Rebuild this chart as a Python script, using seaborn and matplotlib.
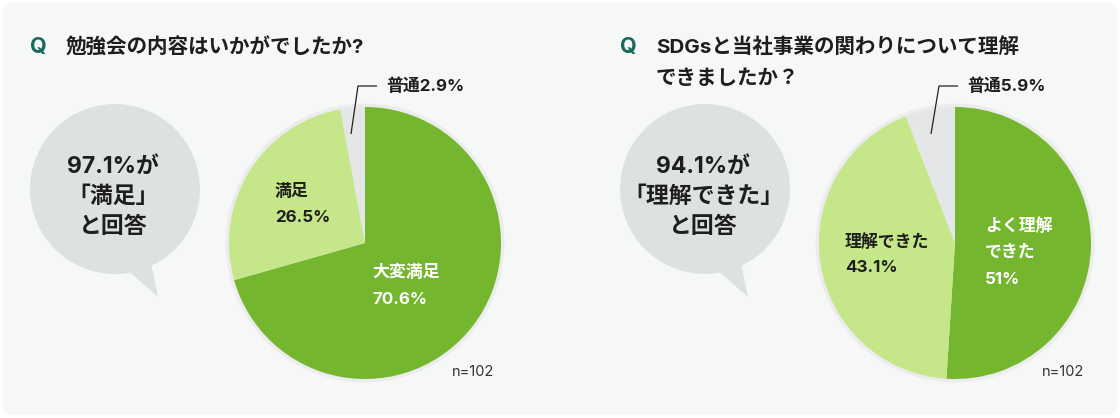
import matplotlib
matplotlib.use("Agg")
import matplotlib.pyplot as plt
import seaborn as sns
from matplotlib.patches import Circle, Polygon, FancyBboxPatch

# ---------------- data ----------------
q1_title = "勉強会の内容はいかがでしたか?"
q1_labels = ["大変満足", "満足", "普通"]
q1_values = [70.6, 26.5, 2.9]
q1_bubble = ["97.1%が", "「満足」", "と回答"]

q2_title = ["SDGsと当社事業の関わりについて理解", "できましたか？"]
q2_labels = ["よく理解できた", "理解できた", "普通"]
q2_values = [51.0, 43.1, 5.9]
q2_bubble = ["94.1%が", "「理解できた」", "と回答"]

n_text = "n=102"

# ---------------- style ----------------
sns.set_theme(style="white")
FAM = ["Inter", "Noto Sans CJK JP", "DejaVu Sans"]
plt.rcParams["font.family"] = FAM

W, H = 1120, 418
colors = ["#74b72e", "#c5e789", "#e5e6e8"]
bg = "#f6f8f8"
bubble_c = "#dde2e0"
ring_c = "#ececec"
txt_c = "#1e1e1e"
q_c = "#17695a"

fig = plt.figure(figsize=(W / 100, H / 100), dpi=100)
fig.patch.set_facecolor("white")
ax = fig.add_axes([0, 0, 1, 1])
ax.set_xlim(0, W)
ax.set_ylim(0, H)
ax.set_aspect("equal")
ax.axis("off")


def Y(y):  # image y (top-down) -> data y
    return H - y


ax.add_patch(FancyBboxPatch((3, 3), W - 6, H - 6,
                            boxstyle="round,pad=0,rounding_size=10",
                            fc=bg, ec="none", zorder=0))


def panel(ox, title_lines, labels, values, bubble_lines, label_specs, minor_spec):
    # title
    ax.text(ox + 30, Y(47), "Q", color=q_c, fontsize=15.5, fontweight="bold",
            ha="left", va="center")
    for i, line in enumerate(title_lines):
        ax.text(ox + 66, Y(47 + 32 * i), line, color=txt_c, fontsize=14.8,
                fontweight="bold", ha="left", va="center")
    # speech bubble
    bcx, bcy, br = ox + 115, 189, 85
    ax.add_patch(Polygon([(ox + 118, Y(262)), (ox + 158, Y(297)), (ox + 150, Y(258))],
                         closed=True, fc=bubble_c, ec="none", zorder=1))
    ax.add_patch(Circle((bcx, Y(bcy)), br, fc=bubble_c, ec="none", zorder=1))
    for i, line in enumerate(bubble_lines):
        ax.text(bcx - 2, Y(bcy - 22 + 30 * i), line, color=txt_c, fontsize=16.5,
                fontweight="bold", ha="center", va="center", zorder=2)
    # pie
    cx, cy, r = ox + 365, 243, 136
    ax.add_patch(Circle((cx, Y(cy)), r + 3.5, fc=ring_c, ec="none", zorder=1))
    wedges, _ = ax.pie(values, colors=colors, startangle=90, counterclock=False,
                       center=(cx, Y(cy)), radius=r, frame=True,
                       wedgeprops=dict(linewidth=0, zorder=2))
    for w in wedges:
        w.set_zorder(2)
    for (tx, ty, lines, col) in label_specs:
        for i, line in enumerate(lines):
            ax.text(ox + tx, Y(ty + 27 * i), line, color=col, fontsize=12.2,
                    fontweight="bold", ha="left", va="center", zorder=3)
    # minor label with leader
    (lx0, ly0), (lx1, ly1), (lx2, ly2), text = minor_spec
    ax.plot([ox + lx0, ox + lx1, ox + lx2], [Y(ly0), Y(ly1), Y(ly2)],
            color="#222222", lw=0.9, zorder=3, solid_capstyle="butt")
    ax.text(ox + lx2 + 9, Y(ly2), text, color=txt_c, fontsize=12.2,
            fontweight="bold", ha="left", va="center", zorder=3)
    ax.text(ox + 452, Y(372), n_text, color="#333333", fontsize=10.5,
            ha="left", va="center", zorder=3)


panel(0, [q1_title], q1_labels, q1_values, q1_bubble,
      [(372, 272, [q1_labels[0], f"{q1_values[0]:g}%"], "white"),
       (275, 191, [q1_labels[1], f"{q1_values[1]:g}%"], txt_c)],
      ((351, 134), (358, 86), (377, 86), f"{q1_labels[2]}{q1_values[2]:g}%"))

panel(590, q2_title, q2_labels, q2_values, q2_bubble,
      [(395, 225, ["よく理解", "できた", f"{q2_values[0]:g}%"], "white"),
       (255, 241, [q2_labels[1], f"{q2_values[1]:g}%"], txt_c)],
      ((341, 134), (349, 86), (368, 86), f"{q2_labels[2]}{q2_values[2]:g}%"))

ax.set_xlim(0, W)
ax.set_ylim(0, H)
ax.set_aspect("equal")
ax.axis("off")

fig.savefig("out.png", dpi=100, facecolor="white")
